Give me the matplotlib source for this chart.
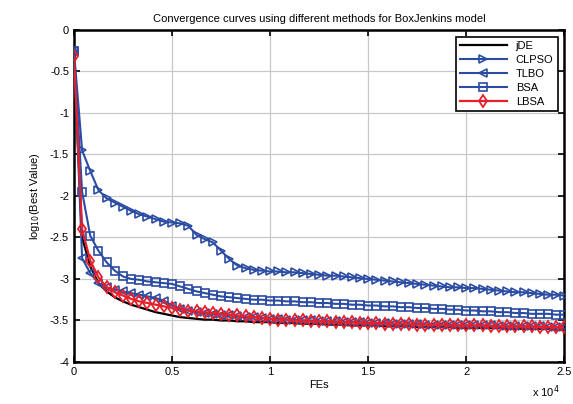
import matplotlib
matplotlib.use("Agg")
import matplotlib.pyplot as plt

plt.rcParams['font.family'] = ['Liberation Sans', 'DejaVu Sans']

# FEs sampled every ~417 evaluations (61 points)
fes = [0, 417, 833, 1250, 1667, 2083, 2500, 2917, 3333, 3750,
       4167, 4583, 5000, 5417, 5833, 6250, 6667, 7083, 7500, 7917,
       8333, 8750, 9167, 9583, 10000, 10417, 10833, 11250, 11667, 12083,
       12500, 12917, 13333, 13750, 14167, 14583, 15000, 15417, 15833, 16250,
       16667, 17083, 17500, 17917, 18333, 18750, 19167, 19583, 20000, 20417,
       20833, 21250, 21667, 22083, 22500, 22917, 23333, 23750, 24167, 24583, 25000]

jde = [-0.30, -2.50, -2.85, -3.05, -3.15, -3.22, -3.27, -3.31, -3.34, -3.37,
       -3.40, -3.42, -3.44, -3.46, -3.47, -3.48, -3.49, -3.49, -3.50, -3.50,
       -3.51, -3.51, -3.52, -3.52, -3.52, -3.53, -3.53, -3.53, -3.54, -3.54,
       -3.54, -3.55, -3.55, -3.55, -3.56, -3.56, -3.56, -3.56, -3.57, -3.57,
       -3.57, -3.57, -3.58, -3.58, -3.58, -3.58, -3.58, -3.59, -3.59, -3.59,
       -3.59, -3.59, -3.59, -3.60, -3.60, -3.60, -3.60, -3.60, -3.60, -3.61, -3.61]

clpso = [-0.25, -1.45, -1.70, -1.93, -2.03, -2.08, -2.13, -2.18, -2.22, -2.25,
         -2.28, -2.31, -2.32, -2.33, -2.36, -2.47, -2.52, -2.56, -2.66, -2.76,
         -2.84, -2.87, -2.89, -2.90, -2.91, -2.91, -2.92, -2.92, -2.93, -2.94,
         -2.95, -2.96, -2.96, -2.97, -2.98, -2.99, -3.00, -3.01, -3.02, -3.03,
         -3.04, -3.05, -3.06, -3.07, -3.08, -3.09, -3.10, -3.10, -3.11, -3.11,
         -3.12, -3.13, -3.14, -3.15, -3.16, -3.16, -3.17, -3.18, -3.19, -3.19, -3.20]

tlbo = [-0.25, -2.75, -2.93, -3.05, -3.10, -3.13, -3.15, -3.17, -3.19, -3.21,
        -3.23, -3.26, -3.32, -3.36, -3.38, -3.40, -3.41, -3.42, -3.43, -3.44,
        -3.45, -3.46, -3.46, -3.47, -3.48, -3.48, -3.49, -3.49, -3.50, -3.50,
        -3.51, -3.51, -3.51, -3.52, -3.52, -3.52, -3.53, -3.53, -3.53, -3.54,
        -3.54, -3.54, -3.54, -3.55, -3.55, -3.55, -3.55, -3.56, -3.56, -3.56,
        -3.56, -3.56, -3.57, -3.57, -3.57, -3.57, -3.57, -3.57, -3.58, -3.58, -3.58]

bsa = [-0.25, -1.95, -2.48, -2.66, -2.80, -2.90, -2.97, -3.00, -3.01, -3.03,
       -3.04, -3.05, -3.06, -3.09, -3.12, -3.15, -3.17, -3.19, -3.21, -3.22,
       -3.23, -3.24, -3.25, -3.25, -3.26, -3.26, -3.27, -3.27, -3.28, -3.28,
       -3.29, -3.29, -3.30, -3.30, -3.31, -3.31, -3.32, -3.32, -3.33, -3.33,
       -3.34, -3.34, -3.35, -3.35, -3.36, -3.36, -3.37, -3.37, -3.38, -3.38,
       -3.39, -3.39, -3.40, -3.40, -3.41, -3.41, -3.42, -3.42, -3.42, -3.43, -3.43]

lbsa = [-0.32, -2.40, -2.78, -2.98, -3.10, -3.16, -3.20, -3.24, -3.27, -3.29,
        -3.31, -3.33, -3.35, -3.37, -3.38, -3.39, -3.40, -3.41, -3.42, -3.43,
        -3.44, -3.45, -3.46, -3.47, -3.48, -3.49, -3.49, -3.50, -3.50, -3.51,
        -3.51, -3.51, -3.52, -3.52, -3.52, -3.53, -3.53, -3.53, -3.54, -3.54,
        -3.54, -3.54, -3.55, -3.55, -3.55, -3.55, -3.56, -3.56, -3.56, -3.56,
        -3.56, -3.57, -3.57, -3.57, -3.57, -3.57, -3.57, -3.58, -3.58, -3.58, -3.58]

xticks = [0, 5000, 10000, 15000, 20000, 25000]
xticklabels = ['0', '0.5', '1', '1.5', '2', '2.5']
yticks = [0, -0.5, -1, -1.5, -2, -2.5, -3, -3.5, -4]

blue = '#2b4ca3'
red = '#e5202b'

fig = plt.figure(figsize=(5.73, 4.04), dpi=100)
ax = fig.add_axes([0.129, 0.104, 0.856, 0.822])

ax.plot(fes, jde, color='black', lw=1.6, label='jDE', zorder=3)
ax.plot(fes, clpso, color=blue, lw=1.5, marker='>', ms=6, mfc='none', mew=1.2, label='CLPSO', zorder=4)
ax.plot(fes, tlbo, color=blue, lw=1.5, marker='<', ms=6, mfc='none', mew=1.2, label='TLBO', zorder=4)
ax.plot(fes, bsa, color=blue, lw=1.5, marker='s', ms=5.5, mfc='none', mew=1.2, label='BSA', zorder=4)
ax.plot(fes, lbsa, color=red, lw=1.6, marker='d', ms=6, mfc='none', mew=1.3, label='LBSA', zorder=5)

ax.set_xlim(0, 25000)
ax.set_ylim(-4, 0)
ax.set_xticks(xticks)
ax.set_xticklabels(xticklabels)
ax.set_yticks(yticks)
ax.set_yticklabels(['0', '-0.5', '-1', '-1.5', '-2', '-2.5', '-3', '-3.5', '-4'])
ax.tick_params(direction='in', top=True, right=True, labelsize=8, length=4, width=1.2)
ax.grid(True, color='#c8c8c8', lw=0.9)
for s in ax.spines.values():
    s.set_linewidth(1.8)

ax.set_title('Convergence curves using different methods for BoxJenkins model', fontsize=8, pad=6)
ax.set_xlabel('FEs', fontsize=8, labelpad=2)
ax.set_ylabel('log$_{10}$(Best Value)', fontsize=8, labelpad=6)
ax.text(0.99, -0.065, 'x 10$^4$', transform=ax.transAxes, fontsize=8, ha='right', va='top')

leg = ax.legend(loc='upper right', fontsize=8, fancybox=False, edgecolor='black',
                framealpha=1, handlelength=4.2, borderaxespad=0.6, labelspacing=0.35)
leg.get_frame().set_linewidth(1.2)

fig.savefig('out.png', dpi=100)
